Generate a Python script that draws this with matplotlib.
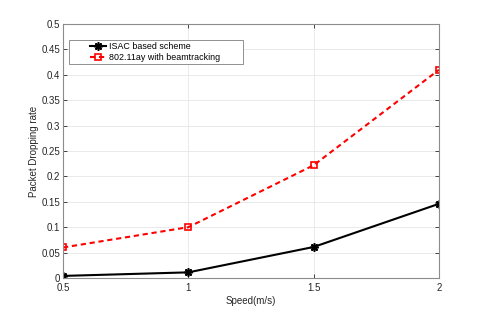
import matplotlib
matplotlib.use('Agg')
import matplotlib.pyplot as plt
from matplotlib.ticker import FuncFormatter
from matplotlib.legend_handler import HandlerLine2D

speed = [0.5, 1, 1.5, 2]
isac = [0.004, 0.011, 0.061, 0.146]
ay_beamtracking = [0.06, 0.1, 0.222, 0.41]

axis_color = '#262626'
plt.rcParams['font.family'] = ['Liberation Sans', 'DejaVu Sans']
plt.rcParams['font.size'] = 7

fig = plt.figure(figsize=(4.85, 3.13), dpi=100)
ax = fig.add_axes([0.130, 0.112, 0.775, 0.811])

l1, = ax.plot(speed, isac, color='black', linestyle='-', linewidth=1.5,
              marker=(8, 2, 0), markersize=6, markeredgewidth=1.2, label='ISAC based scheme')
l2, = ax.plot(speed, ay_beamtracking, color='red', linestyle=(0, (2.5, 1.8)), linewidth=1.5,
              marker='s', markersize=5, markerfacecolor='none', markeredgewidth=1.2,
              label='802.11ay with beamtracking')

ax.set_xlim(0.5, 2)
ax.set_ylim(0, 0.5)
ax.set_xticks(speed)
ax.set_yticks([i * 0.05 for i in range(11)])
ax.xaxis.set_major_formatter(FuncFormatter(lambda v, p: '%g' % v))
ax.yaxis.set_major_formatter(FuncFormatter(lambda v, p: '%g' % round(v, 2)))
ax.grid(True, color='#e6e6e6', linewidth=0.6)
ax.set_axisbelow(True)
ax.tick_params(direction='in', top=True, right=True, length=3, width=0.6,
               colors=axis_color, labelcolor=axis_color, pad=2)
ax.tick_params(axis='x', pad=4)
for s in ax.spines.values():
    s.set_color('#8c8c8c')
    s.set_linewidth(0.8)

ax.set_xlabel('Speed(m/s)', color=axis_color, labelpad=2)
ax.set_ylabel('Packet Dropping rate', color=axis_color, labelpad=2)

# matlab style legend: handle pushed to the right, box wider than the text
hl = HandlerLine2D(xpad=2.1)
leg = ax.legend(handles=[l1, l2], loc='upper left', mode='expand',
                bbox_to_anchor=(0.016, 0.846, 0.463, 0.091),
                fancybox=False, edgecolor='#7f7f7f', framealpha=1, fontsize=6.4,
                handlelength=3.9, handletextpad=0.3, borderpad=0.25, labelspacing=0.15,
                borderaxespad=0, handler_map={l1: hl, l2: hl})
leg.get_frame().set_linewidth(0.6)

fig.savefig('out.png', dpi=100)
